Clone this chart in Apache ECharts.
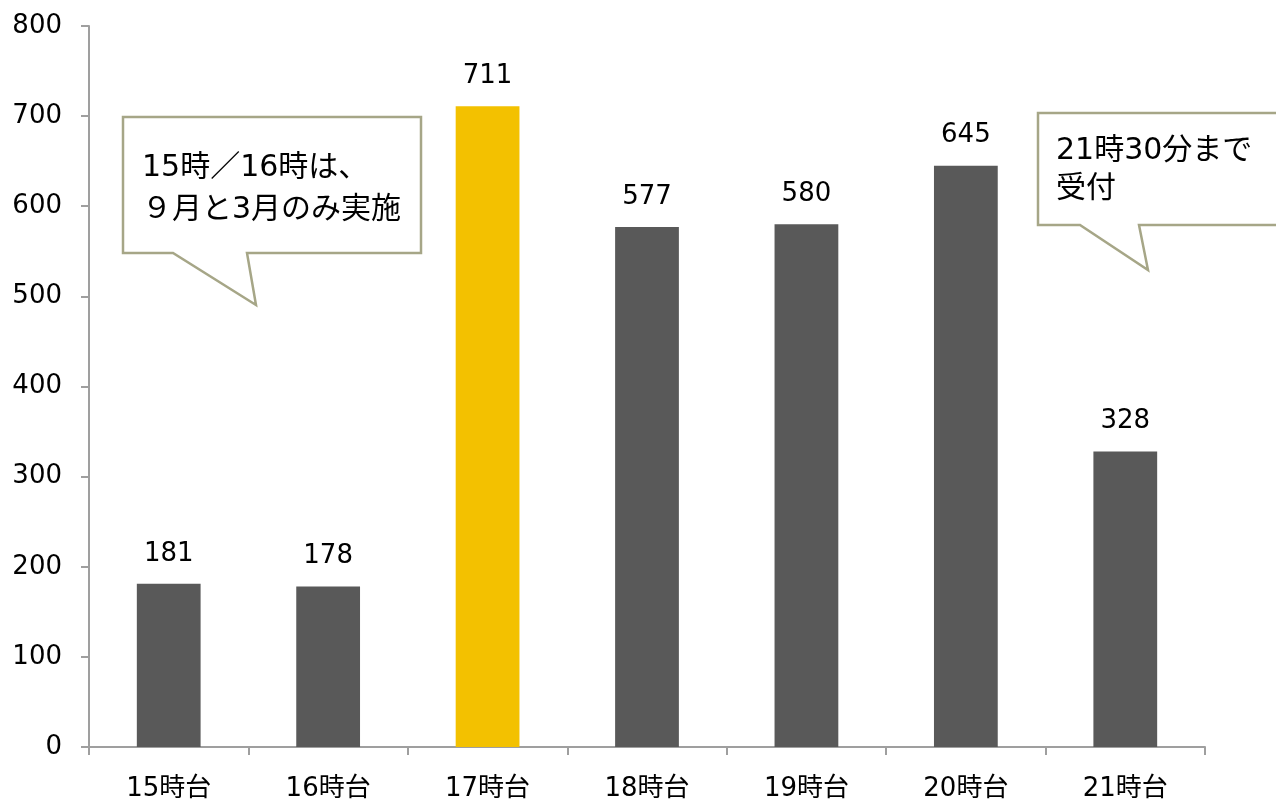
<!DOCTYPE html>
<html>
<head>
<meta charset="utf-8">
<script src="https://cdn.jsdelivr.net/npm/echarts@6/dist/echarts.min.js"></script>
<style>html,body{margin:0;padding:0;background:#fff;}#c{width:1276px;height:802px;}</style>
</head>
<body>
<div id="c"></div>
<script>
var categories = ['15時台', '16時台', '17時台', '18時台', '19時台', '20時台', '21時台'];
var values = [181, 178, 711, 577, 580, 645, 328];
var highlightIndex = 2;
var note1 = ['15時／16時は、', '９月と3月のみ実施'];
var note2 = ['21時30分まで', '受付'];

var FONT = 'DejaVu Sans, "Noto Sans CJK JP", sans-serif';
var chart = echarts.init(document.getElementById('c'));
var bubbleStroke = '#a6a687';
chart.setOption({
  animation: false,
  grid: { left: 89, right: 71, top: 26, bottom: 55 },
  xAxis: {
    type: 'category',
    data: categories,
    axisLine: { lineStyle: { color: '#9f9f9f', width: 2 } },
    axisTick: { show: true, length: 8, lineStyle: { color: '#9f9f9f', width: 2 } },
    axisLabel: { color: '#000', fontSize: 26, fontFamily: FONT, margin: 29 }
  },
  yAxis: {
    type: 'value',
    min: 0, max: 800, interval: 100,
    splitLine: { show: false },
    axisLine: { show: true, lineStyle: { color: '#9f9f9f', width: 2 } },
    axisTick: { show: true, length: 8, lineStyle: { color: '#9f9f9f', width: 2 } },
    axisLabel: { color: '#000', fontSize: 26, fontFamily: FONT, margin: 27 }
  },
  series: [{
    type: 'bar',
    barWidth: '40%',
    data: values.map(function (v, i) {
      return { value: v, itemStyle: { color: i === highlightIndex ? '#F3C100' : '#595959' } };
    }),
    label: { show: true, position: 'top', distance: 17, color: '#000', fontSize: 26, fontFamily: FONT }
  }],
  graphic: [
    {
      type: 'polygon',
      shape: { points: [[123,117],[421,117],[421,253],[247,253],[256,305],[173,253],[123,253]] },
      style: { fill: '#fff', stroke: bubbleStroke, lineWidth: 2.5 }
    },
    {
      type: 'text', x: 142, y: 168,
      style: { text: note1[0], font: '30px ' + FONT, fill: '#000', verticalAlign: 'middle' }
    },
    {
      type: 'text', x: 142, y: 210,
      style: { text: note1[1], font: '30px ' + FONT, fill: '#000', verticalAlign: 'middle' }
    },
    {
      type: 'polygon',
      shape: { points: [[1038,113],[1290,113],[1290,225],[1139,225],[1148,270],[1080,225],[1038,225]] },
      style: { fill: '#fff', stroke: bubbleStroke, lineWidth: 2.5 }
    },
    {
      type: 'text', x: 1056, y: 151,
      style: { text: note2[0], font: '30px ' + FONT, fill: '#000', verticalAlign: 'middle' }
    },
    {
      type: 'text', x: 1056, y: 189,
      style: { text: note2[1], font: '30px ' + FONT, fill: '#000', verticalAlign: 'middle' }
    }
  ]
});
</script>
</body>
</html>
